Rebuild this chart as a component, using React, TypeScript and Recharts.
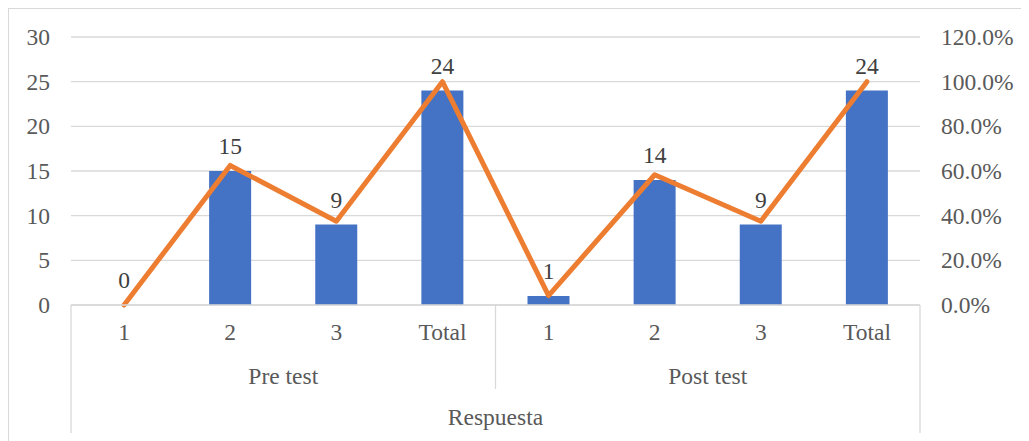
import React from "react";
import {
  ComposedChart,
  Bar,
  Line,
  XAxis,
  YAxis,
  CartesianGrid,
  LabelList,
} from "recharts";

// values
const groups = ["Pre test", "Post test"];
const respuestas = ["1", "2", "3", "Total"];
const counts = [0, 15, 9, 24, 1, 14, 9, 24];
const percents = [0, 0.625, 0.375, 1, 0.0417, 0.5833, 0.375, 1];
const axisTitle = "Respuesta";

const leftTicks = [0, 5, 10, 15, 20, 25, 30];
const rightTicks = [0, 0.2, 0.4, 0.6, 0.8, 1, 1.2];
const groupTicks = [0, 2, 4, 6, 8];

const FONT = "'Liberation Serif', 'Times New Roman', serif";
const TICK_COLOR = "#595959";
const LINE_COLOR = "#d9d9d9";
const FS = 23.5;

const data = groups.flatMap((g, gi) =>
  respuestas.map((r, ri) => {
    const i = gi * respuestas.length + ri;
    return { label: r, group: g, pos: i + 0.5, count: counts[i], pct: percents[i] };
  })
);

const txt = (x: number, y: number, s: string, anchor: string, fill = TICK_COLOR) => (
  <text
    x={x}
    y={y}
    textAnchor={anchor}
    fill={fill}
    fontSize={FS}
    fontFamily={FONT}
    style={{ fontFamily: FONT, fontSize: FS }}
  >
    {s}
  </text>
);

const CategoryTick = ({ x, y, payload }: any) => txt(x, y + 35, payload.value, "middle");

// second level of the category axis: group names, dividers and title
const GroupTick = ({ x, y, payload }: any) => {
  const v = payload.value;
  const last = groups.length * respuestas.length;
  if (v === 0 || v === last) {
    return <line x1={x} x2={x} y1={y - 50} y2={y + 78} stroke={LINE_COLOR} strokeWidth={1.3} />;
  }
  if (v === last / 2) {
    return (
      <g>
        <line x1={x} x2={x} y1={y - 50} y2={y + 34} stroke={LINE_COLOR} strokeWidth={1.3} />
        {txt(x, y + 70, axisTitle, "middle")}
      </g>
    );
  }
  return txt(x, y + 29, groups[Math.floor(v / respuestas.length)], "middle");
};

const LeftTick = ({ x, y, payload }: any) => txt(x, y + 8, String(payload.value), "end");
const RightTick = ({ x, y, payload }: any) =>
  txt(x, y + 8, `${(payload.value * 100).toFixed(1)}%`, "start");

// value labels sit above the top of each bar
const CountLabel = ({ x, y, value }: any) =>
  txt(x, y - 17, String(value), "middle", "#404040");

export default function App() {
  return (
    <div
      style={{
        width: 1020,
        height: 445,
        border: `1px solid ${LINE_COLOR}`,
        background: "#fff",
        fontFamily: FONT,
      }}
    >
      <ComposedChart
        width={1020}
        height={440}
        data={data}
        margin={{ top: 28, right: 0, bottom: 0, left: 0 }}
      >
        <CartesianGrid
          yAxisId="left"
          vertical={false}
          stroke={LINE_COLOR}
          strokeWidth={1.3}
        />
        <XAxis
          dataKey="label"
          allowDuplicatedCategory
          height={50}
          tickLine={false}
          tickSize={0}
          tickMargin={0}
          axisLine={{ stroke: LINE_COLOR, strokeWidth: 1.3 }}
          tick={<CategoryTick />}
          interval={0}
        />
        <XAxis
          xAxisId="grp"
          dataKey="pos"
          type="number"
          domain={[0, groups.length * respuestas.length]}
          ticks={groupTicks}
          allowDataOverflow
          height={94}
          tickLine={false}
          tickSize={0}
          tickMargin={0}
          axisLine={false}
          tick={<GroupTick />}
          interval={0}
        />
        <YAxis
          yAxisId="left"
          width={62}
          domain={[0, 30]}
          ticks={leftTicks}
          axisLine={false}
          tickLine={false}
          tickSize={0}
          tickMargin={21}
          tick={<LeftTick />}
        />
        <YAxis
          yAxisId="right"
          orientation="right"
          width={109}
          domain={[0, 1.2]}
          ticks={rightTicks}
          axisLine={false}
          tickLine={false}
          tickSize={0}
          tickMargin={21}
          tick={<RightTick />}
        />
        <Bar yAxisId="left" dataKey="count" fill="#4472C4" barSize={42} isAnimationActive={false} />
        <Line
          yAxisId="right"
          dataKey="pct"
          stroke="#ED7D31"
          strokeWidth={5}
          strokeLinecap="round"
          strokeLinejoin="round"
          dot={false}
          activeDot={false}
          isAnimationActive={false}
        />
        {/* invisible carrier for the bar value labels, so the 0 label is kept */}
        <Line
          yAxisId="left"
          dataKey="count"
          stroke="none"
          dot={false}
          activeDot={false}
          isAnimationActive={false}
        >
          <LabelList dataKey="count" content={<CountLabel />} />
        </Line>
      </ComposedChart>
    </div>
  );
}
